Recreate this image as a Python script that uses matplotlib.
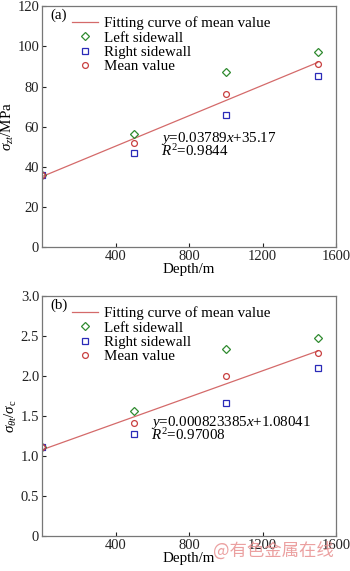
import numpy as np
import matplotlib
matplotlib.use("Agg")
import matplotlib.pyplot as plt

plt.rcParams['font.family'] = ['Liberation Serif', 'DejaVu Serif']
plt.rcParams['mathtext.fontset'] = 'custom'
plt.rcParams['mathtext.rm'] = 'Liberation Serif'
plt.rcParams['mathtext.it'] = 'Liberation Serif:italic'

depth = [0, 500, 1000, 1500]

# (a) sigma_zt / MPa
left_a = [36.2, 56.4, 87.5, 97.3]
right_a = [36.0, 47.1, 65.7, 85.1]
mean_a = [36.1, 51.8, 76.5, 91.3]
fit_a = (0.03789, 35.17)

# (b) sigma_theta_t / sigma_c
left_b = [1.11, 1.56, 2.34, 2.48]
right_b = [1.11, 1.28, 1.67, 2.10]
mean_b = [1.11, 1.415, 2.005, 2.293]
fit_b = (0.000823385, 1.08041)

xticks = [400, 800, 1200, 1600]

fig = plt.figure(figsize=(3.5, 5.71), dpi=100)
ax_a = fig.add_axes([0.12, 0.567, 0.84, 0.422])
ax_b = fig.add_axes([0.12, 0.061, 0.84, 0.420])

green = '#2f8a2f'
blue = '#2a2ab8'
red = '#c84040'
linec = '#d46a6a'
fs = 10.8


def draw(ax, left, right, mean, fit, ylim, yticks, ylabel, tag, eq, eqpos):
    xs = np.array(depth, dtype=float)
    ax.plot(xs, fit[0] * xs + fit[1], color=linec, lw=0.9,
            label='Fitting curve of mean value')
    ax.plot(depth, left, 'D', ms=3.8, mfc='none', mec=green, mew=0.9,
            ls='none', label='Left sidewall')
    ax.plot(depth, right, 's', ms=3.8, mfc='none', mec=blue, mew=0.9,
            ls='none', label='Right sidewall')
    ax.plot(depth, mean, 'o', ms=4.2, mfc='none', mec=red, mew=0.9,
            ls='none', label='Mean value')
    ax.set_xlim(0, 1600)
    ax.set_ylim(*ylim)
    ax.set_xticks(xticks)
    ax.set_yticks(yticks)
    ax.tick_params(direction='in', length=3, labelsize=10.5, width=0.8,
                   colors='#222222', pad=2)
    for s in ax.spines.values():
        s.set_color('#777777')
        s.set_linewidth(0.9)
    ax.set_xlabel('Depth/m', fontsize=fs, labelpad=0)
    ax.set_ylabel(ylabel, fontsize=fs, labelpad=1)
    ax.text(0.03, 0.962, tag, transform=ax.transAxes, fontsize=fs,
            va='center', ha='left')
    ax.legend(loc='upper left', bbox_to_anchor=(0.073, 0.995), frameon=False,
              fontsize=fs, handlelength=1.7, handletextpad=0.4,
              labelspacing=0.05, borderaxespad=0.2)
    ax.text(eqpos[0], eqpos[1], eq[0], transform=ax.transAxes, fontsize=fs,
            va='center', ha='left')
    ax.text(eqpos[0], eqpos[1] - 0.052, eq[1], transform=ax.transAxes,
            fontsize=fs, va='center', ha='left')


draw(ax_a, left_a, right_a, mean_a, fit_a, (0, 120), [0, 20, 40, 60, 80, 100, 120],
     r'$\sigma_{zt}$/MPa', '(a)',
     (r'$y$=0.03789$x$+35.17', r'$R^2$=0.9844'), (0.405, 0.452))
draw(ax_b, left_b, right_b, mean_b, fit_b, (0, 3.0),
     [0, 0.5, 1.0, 1.5, 2.0, 2.5, 3.0],
     r'$\sigma_{\theta t}/\sigma_{\mathrm{c}}$', '(b)',
     (r'$y$=0.000823385$x$+1.08041', r'$R^2$=0.97008'), (0.372, 0.475))
ax_b.set_yticklabels(['0', '0.5', '1.0', '1.5', '2.0', '2.5', '3.0'])

fig.text(0.61, 0.027, '@有色金属在线', fontsize=12.5, color='#e89090', alpha=0.85,
         family=['Noto Sans CJK SC', 'DejaVu Sans'])

fig.savefig('out.png', dpi=100)
